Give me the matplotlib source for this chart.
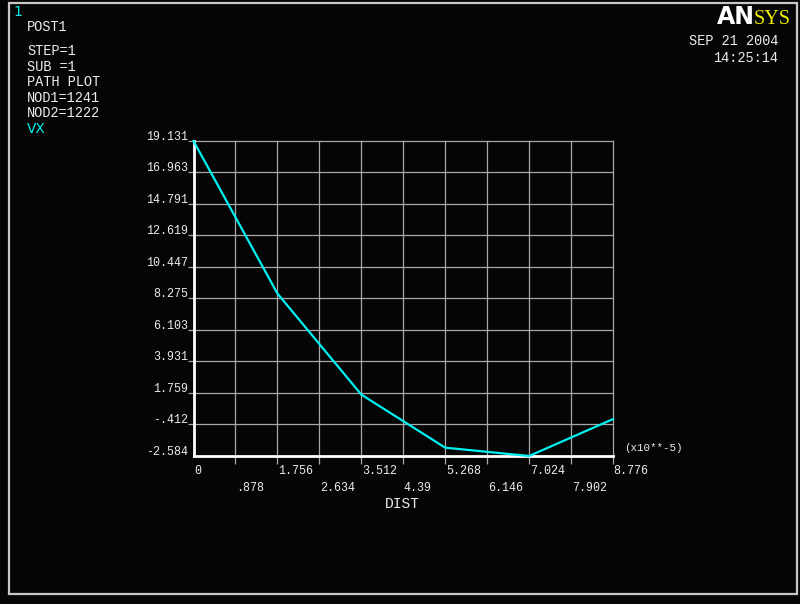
import matplotlib
matplotlib.use("Agg")
import matplotlib.pyplot as plt
from matplotlib.transforms import offset_copy
from matplotlib.patches import Rectangle

# ---- data ----
dist = [0.0, 1.7552, 3.5104, 5.2656, 7.0208, 8.776]
vx = [19.131, 8.62, 1.65, -2.01, -2.584, -0.04]
xticks = [0, 0.878, 1.756, 2.634, 3.512, 4.39, 5.268, 6.146, 7.024, 7.902, 8.776]
xtick_labels = ["0", ".878", "1.756", "2.634", "3.512", "4.39", "5.268", "6.146", "7.024", "7.902", "8.776"]
yticks = [-2.584, -0.412, 1.759, 3.931, 6.103, 8.275, 10.447, 12.619, 14.791, 16.963, 19.131]
ytick_labels = ["-2.584", "-.412", "1.759", "3.931", "6.103", "8.275", "10.447", "12.619", "14.791", "16.963", "19.131"]
info_lines = ["STEP=1", "SUB =1", "PATH PLOT", "NOD1=1241", "NOD2=1222"]

W, H = 800, 604
BG = "#050505"
GRID = "#a8a8a8"
CYAN = "#00f0f0"
WHITE = "#ececec"
MONO = "Liberation Mono"

fig = plt.figure(figsize=(W / 100, H / 100), dpi=100, facecolor=BG)

def fx(x):
    return x / W

def fy(y):
    return 1 - y / H

# outer frame
fig.patches.append(Rectangle((fx(9), fy(594)), fx(797) - fx(9), fy(3) - fy(594),
                             transform=fig.transFigure, fill=False,
                             edgecolor="#c8c8c8", lw=1.6, zorder=0))

L, R, T, B = 193.5, 613, 141, 456
ax = fig.add_axes([fx(L), fy(B), fx(R) - fx(L), fy(T) - fy(B)], facecolor=BG)
ax.set_xlim(xticks[0], xticks[-1])
ax.set_ylim(yticks[0], yticks[-1])

for xv in xticks[1:]:
    ax.axvline(xv, color=GRID, lw=0.9, zorder=1, clip_on=False)
for yv in yticks[1:]:
    ax.axhline(yv, color=GRID, lw=0.9, zorder=1, clip_on=False)

for s in ["top", "right"]:
    ax.spines[s].set_visible(False)
for s in ["left", "bottom"]:
    ax.spines[s].set_color("white")
    ax.spines[s].set_linewidth(2.0)
    ax.spines[s].set_zorder(3)

ax.set_xticks(xticks[1:])
ax.set_yticks(yticks[1:])
ax.tick_params(axis="x", direction="out", length=6, width=0.9, color=GRID, labelbottom=False)
ax.tick_params(axis="y", direction="out", length=4, width=0.9, color=GRID, labelleft=False)

ax.plot(dist, vx, color=CYAN, lw=1.6, zorder=4, clip_on=False)

# y tick labels (baseline on the grid line, right-aligned just left of the tick)
for yv, lab in zip(yticks, ytick_labels):
    tr = offset_copy(ax.get_yaxis_transform(), fig=fig, x=-5, y=1, units="dots")
    ax.text(0, yv, lab, transform=tr, ha="right", va="baseline",
            fontsize=8.4, family=MONO, color=WHITE)

# x tick labels in two staggered rows, left-aligned on the tick
for i, (xv, lab) in enumerate(zip(xticks, xtick_labels)):
    dy = -18 if i % 2 == 0 else -35
    tr = offset_copy(ax.get_xaxis_transform(), fig=fig, x=0.5, y=dy, units="dots")
    ax.text(xv, 0, lab, transform=tr, ha="left", va="baseline",
            fontsize=8.4, family=MONO, color=WHITE)

fig.text(fx(385), fy(508), "DIST", fontsize=10.5, family=MONO, color=WHITE,
         ha="left", va="baseline")
fig.text(fx(624), fy(451), "(x10**-5)", fontsize=7.8, family=MONO, color=WHITE,
         ha="left", va="baseline")

# header text
fig.text(fx(13), fy(16), "1", fontsize=10, family="DejaVu Sans", color=CYAN,
         ha="left", va="baseline")
fig.text(fx(27), fy(31), "POST1", fontsize=9.8, family=MONO, color=WHITE,
         ha="left", va="baseline")
for k, line in enumerate(info_lines):
    fig.text(fx(27), fy(55 + 15.6 * k), line, fontsize=9.8, family=MONO, color=WHITE,
             ha="left", va="baseline")
fig.text(fx(27), fy(133), "VX", fontsize=9.8, family="DejaVu Sans", color=CYAN,
         ha="left", va="baseline")

fig.text(fx(778), fy(45), "SEP 21 2004", fontsize=9.8, family=MONO, color=WHITE,
         ha="right", va="baseline")
fig.text(fx(778), fy(62), "14:25:14", fontsize=9.8, family=MONO, color=WHITE,
         ha="right", va="baseline")

# logo
fig.text(fx(755), fy(23.5), "AN", fontsize=17, family="DejaVu Sans", weight="bold",
         color="white", ha="right", va="baseline")
fig.text(fx(791), fy(23.5), "SYS", fontsize=14.5, family="Liberation Serif",
         color="#f0f000", ha="right", va="baseline")

fig.savefig("out.png", dpi=100, facecolor=BG)
